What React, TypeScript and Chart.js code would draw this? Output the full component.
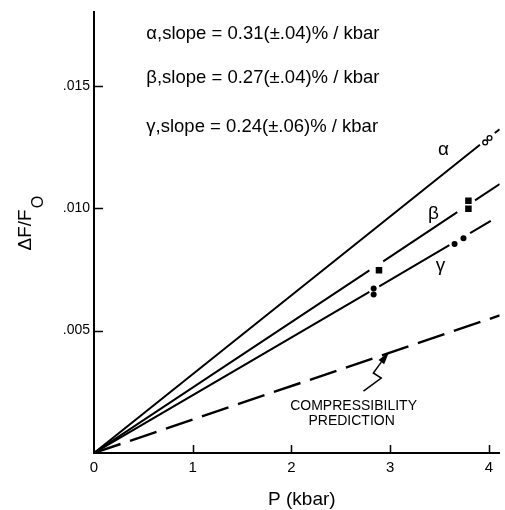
import React, { useEffect, useRef } from "react";
import { Chart, registerables } from "chart.js";

Chart.register(...registerables);

// ---- data ----
const xTicks = [0, 1, 2, 3, 4];
const yTicks = [0.005, 0.01, 0.015];
const xMin = 0;
const xMax = 4.11;
const yMin = 0;
const yMax = 0.018;

// fitted lines (segments broken around the markers; null = gap)
const alphaLineX = [0, 3.91, 3.98, 4.06, 4.11];
const alphaLineY = [0, 0.01259, null, 0.01307, 0.01323];
const betaLineX = [0, 2.79, 2.86, 2.93, 3.68, 3.77, 3.86, 4.11];
const betaLineY = [0, 0.00746, null, 0.00783, 0.00984, null, 0.01032, 0.01099];
const gammaLineX = [0, 2.79, 2.84, 2.89, 3.6, 3.7, 3.81, 4.02];
const gammaLineY = [0, 0.00658, null, 0.00681, 0.00849, null, 0.00898, 0.00948];
const compLineX = [0, 4.11];
const compLineY = [0, 0.00562];

// measured points
const alphaPtsX = [3.963, 4.007];
const alphaPtsY = [0.01269, 0.01287];
const betaPtsX = [2.887, 3.793, 3.793];
const betaPtsY = [0.00747, 0.01031, 0.00998];
const gammaPtsX = [2.833, 2.833, 3.653, 3.743];
const gammaPtsY = [0.00672, 0.00648, 0.00854, 0.00877];

// annotation texts
const slopeTexts = [
  "\u03b1,slope = 0.31(\u00b1.04)% / kbar",
  "\u03b2,slope = 0.27(\u00b1.04)% / kbar",
  "\u03b3,slope = 0.24(\u00b1.06)% / kbar",
];
const slopeTextX = [0.53, 0.53, 0.53];
const slopeTextY = [0.01714, 0.01533, 0.01332];
const greekLabels = ["\u03b1", "\u03b2", "\u03b3"];
const greekX = [3.54, 3.44, 3.51];
const greekY = [0.01239, 0.00978, 0.00765];
const noteLines = ["COMPRESSIBILITY", "PREDICTION"];
const noteX = [2.63, 2.61];
const noteY = [0.00193, 0.00129];
const arrowX = [2.73, 2.91, 2.83, 2.89, 2.99];
const arrowY = [0.00253, 0.00306, 0.00327, 0.0036, 0.00414];
const xTitle = "P (kbar)";
const yTitleMain = "\u0394F/F";
const yTitleSub = "O";

const FONT = "'Liberation Sans', Arial, sans-serif";

const zip = (xs: number[], ys: (number | null)[]) =>
  xs.map((x, i) => ({ x, y: ys[i] }));

const overlay = {
  id: "overlay",
  afterDraw(chart: any) {
    const { ctx, chartArea, scales } = chart;
    const xs = scales.x;
    const ys = scales.y;
    ctx.save();
    ctx.strokeStyle = "#000";
    ctx.fillStyle = "#000";
    // inward tick marks
    ctx.lineWidth = 1.5;
    ctx.beginPath();
    xTicks.forEach((v) => {
      if (v === 0) return;
      const px = Math.round(xs.getPixelForValue(v)) + 0.5;
      ctx.moveTo(px, chartArea.bottom);
      ctx.lineTo(px, chartArea.bottom - 8);
    });
    yTicks.forEach((v) => {
      const py = Math.round(ys.getPixelForValue(v)) + 0.5;
      ctx.moveTo(chartArea.left, py);
      ctx.lineTo(chartArea.left + 9, py);
    });
    ctx.stroke();

    // slope texts
    ctx.font = `18.5px ${FONT}`;
    ctx.textAlign = "left";
    ctx.textBaseline = "middle";
    slopeTexts.forEach((t, i) => {
      ctx.fillText(t, xs.getPixelForValue(slopeTextX[i]), ys.getPixelForValue(slopeTextY[i]));
    });

    // greek labels on lines
    ctx.font = `19px ${FONT}`;
    ctx.textAlign = "center";
    greekLabels.forEach((t, i) => {
      ctx.fillText(t, xs.getPixelForValue(greekX[i]), ys.getPixelForValue(greekY[i]));
    });

    // compressibility note
    ctx.font = `14px ${FONT}`;
    noteLines.forEach((t, i) => {
      ctx.fillText(t, xs.getPixelForValue(noteX[i]), ys.getPixelForValue(noteY[i]));
    });

    // zig-zag arrow
    const pts = arrowX.map((x, i) => [xs.getPixelForValue(x), ys.getPixelForValue(arrowY[i])]);
    ctx.lineWidth = 1.5;
    ctx.beginPath();
    ctx.moveTo(pts[0][0], pts[0][1]);
    for (let i = 1; i < pts.length - 1; i++) ctx.lineTo(pts[i][0], pts[i][1]);
    ctx.stroke();
    const [tx, ty] = pts[pts.length - 1];
    const [bx, by] = pts[pts.length - 2];
    const ang = Math.atan2(ty - by, tx - bx);
    const len = 13;
    const half = 3.5;
    const baseX = tx - len * Math.cos(ang);
    const baseY = ty - len * Math.sin(ang);
    ctx.beginPath();
    ctx.moveTo(bx, by);
    ctx.lineTo(baseX, baseY);
    ctx.stroke();
    ctx.beginPath();
    ctx.moveTo(tx, ty);
    ctx.lineTo(baseX + half * Math.sin(ang), baseY - half * Math.cos(ang));
    ctx.lineTo(baseX - half * Math.sin(ang), baseY + half * Math.cos(ang));
    ctx.closePath();
    ctx.fill();

    // x title
    ctx.font = `19px ${FONT}`;
    ctx.textAlign = "center";
    ctx.textBaseline = "middle";
    ctx.fillText(xTitle, (chartArea.left + chartArea.right) / 2 + 5, chartArea.bottom + 47);

    // y title with subscript
    ctx.translate(24, (chartArea.top + chartArea.bottom) / 2 - 9);
    ctx.rotate(-Math.PI / 2);
    ctx.textAlign = "left";
    ctx.textBaseline = "alphabetic";
    ctx.font = `19px ${FONT}`;
    const w1 = ctx.measureText(yTitleMain).width;
    ctx.font = `16px ${FONT}`;
    const w2 = ctx.measureText(yTitleSub).width;
    const start = -(w1 + w2) / 2;
    ctx.font = `19px ${FONT}`;
    ctx.fillText(yTitleMain, start, 7);
    ctx.font = `16px ${FONT}`;
    ctx.fillText(yTitleSub, start + w1 + 1, 19);
    ctx.restore();
  },
};

export default function App() {
  const ref = useRef<HTMLCanvasElement | null>(null);
  useEffect(() => {
    if (!ref.current) return;
    const lineDs = (xs: number[], ys: (number | null)[], dash: number[] = [], width = 2) => ({
      type: "line" as const,
      data: zip(xs, ys),
      borderColor: "#000",
      borderWidth: width,
      borderDash: dash,
      pointRadius: 0,
      showLine: true,
      spanGaps: false,
      tension: 0,
      order: 2,
    });
    const chart = new Chart(ref.current, {
      type: "scatter",
      data: {
        datasets: [
          lineDs(alphaLineX, alphaLineY),
          lineDs(betaLineX, betaLineY),
          lineDs(gammaLineX, gammaLineY),
          lineDs(compLineX, compLineY, [28, 10], 2.4),
          {
            data: zip(alphaPtsX, alphaPtsY),
            pointStyle: "circle",
            pointRadius: 2.4,
            pointBorderWidth: 1.3,
            pointBorderColor: "#000",
            pointBackgroundColor: "#fff",
            order: 1,
          },
          {
            data: zip(betaPtsX, betaPtsY),
            pointStyle: "rect",
            pointRadius: 4.6,
            pointBorderWidth: 0,
            pointBackgroundColor: "#000",
            pointBorderColor: "#000",
            order: 1,
          },
          {
            data: zip(gammaPtsX, gammaPtsY),
            pointStyle: "circle",
            pointRadius: 3,
            pointBorderWidth: 0,
            pointBackgroundColor: "#000",
            pointBorderColor: "#000",
            order: 1,
          },
        ] as any,
      },
      options: {
        responsive: false,
        animation: false,
        devicePixelRatio: 1,
        layout: { padding: { top: 6, right: 0, left: 0, bottom: 0 } },
        plugins: { legend: { display: false }, tooltip: { enabled: false } },
        scales: {
          x: {
            type: "linear",
            min: xMin,
            max: xMax,
            afterBuildTicks: (s: any) => {
              s.ticks = xTicks.map((v) => ({ value: v }));
            },
            afterFit: (s: any) => {
              s.height = 57;
            },
            grid: { display: false, drawTicks: false },
            border: { display: true, color: "#000", width: 2 },
            ticks: {
              color: "#000",
              font: { family: FONT, size: 15 },
              padding: 6,
              callback: (v: any) => String(v),
            },
          },
          y: {
            type: "linear",
            min: yMin,
            max: yMax,
            afterBuildTicks: (s: any) => {
              s.ticks = yTicks.map((v) => ({ value: v }));
            },
            afterFit: (s: any) => {
              s.width = 94;
            },
            grid: { display: false, drawTicks: false },
            border: { display: true, color: "#000", width: 2 },
            ticks: {
              color: "#000",
              font: { family: FONT, size: 14 },
              padding: 4,
              callback: (v: any) => "." + String(Math.round(v * 1000)).padStart(3, "0"),
            },
          },
        },
      },
      plugins: [overlay],
    });
    return () => chart.destroy();
  }, []);
  return (
    <div style={{ position: "fixed", left: 0, top: 0, width: 505, height: 510, background: "#fff" }}>
      <canvas ref={ref} width={505} height={510} style={{ width: 505, height: 510, display: "block" }} />
    </div>
  );
}
